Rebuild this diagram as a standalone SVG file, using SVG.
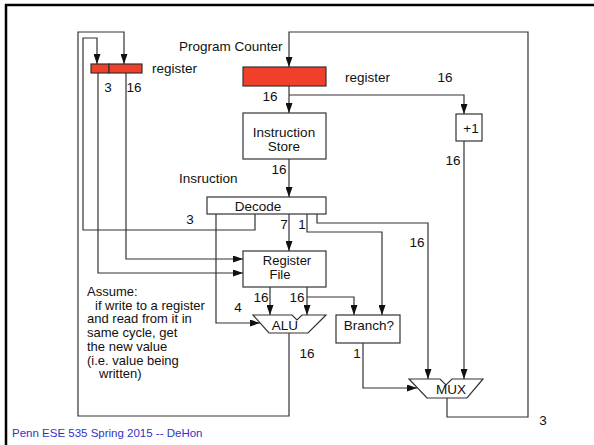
<svg xmlns="http://www.w3.org/2000/svg" width="594" height="445" viewBox="0 0 594 445">
<style>
  .t { font-family: "Liberation Sans", Arial, sans-serif; font-size: 13.5px; fill: #111; }
  .n { font-family: "Liberation Sans", Arial, sans-serif; font-size: 13px; fill: #111; }
  .m { text-anchor: middle; }
  .w { fill: none; stroke: #333; stroke-width: 1.2; }
  .wa { fill: none; stroke: #333; stroke-width: 1.2; marker-end: url(#ah); }
  .box { fill: #fff; stroke: #333; stroke-width: 1.2; }
  .red { fill: #f0402a; stroke: #333; stroke-width: 1.2; }
  .foot { font-family: "Liberation Sans", Arial, sans-serif; font-size: 11.5px; fill: #3232c8; }
</style>
<defs>
  <marker id="ah" markerWidth="10" markerHeight="7" refX="10" refY="3.5" orient="auto" markerUnits="userSpaceOnUse" viewBox="0 0 10 7">
    <path d="M0,0 L10,3.5 L0,7 z" fill="#111"/>
  </marker>
</defs>
<rect width="594" height="445" fill="#fff"/>
<g id="slide-frame">
  <line x1="5" y1="5" x2="594" y2="5" stroke="#000" stroke-width="2.5"/>
  <line x1="6" y1="4" x2="6" y2="445" stroke="#000" stroke-width="2.5"/>
</g>
<g id="connectors">
  <polyline class="wa" points="289,333 289,416 78,416 78,32 124,32 124,64"/>
  <polyline class="wa" points="255,214 255,230 83,230 83,38 97,38 97,64"/>
  <polyline class="wa" points="126,73 126,259 243,259"/>
  <polyline class="wa" points="98,73 98,273 243,273"/>
  <polyline class="wa" points="447,398 447,417 528,417 528,32 289,32 289,67"/>
  <polyline class="wa" points="289,86 289,113"/>
  <polyline class="wa" points="289,95 464,95 464,114"/>
  <polyline class="wa" points="464,141 464,379"/>
  <polyline class="wa" points="289,159 289,197"/>
  <polyline class="wa" points="289,214 289,251"/>
  <polyline class="wa" points="216,214 216,323 260,323"/>
  <polyline class="wa" points="307,214 307,232 382,232 382,315"/>
  <polyline class="wa" points="317,214 317,223 428,223 428,379"/>
  <polyline class="wa" points="270,287 270,315"/>
  <polyline class="wa" points="307,287 307,315"/>
  <polyline class="wa" points="307,297 354,297 354,315"/>
  <polyline class="wa" points="363,343 363,388 417,388"/>
</g>
<g id="write-register">
  <rect class="red" x="91" y="64" width="18" height="9"/>
  <rect class="red" x="109" y="64" width="33" height="9"/>
  <text class="t" x="152" y="73">register</text>
  <text class="t m" x="108" y="92">3</text>
  <text class="t m" x="134" y="92">16</text>
</g>
<g id="program-counter">
  <text class="t" x="179" y="51">Program Counter</text>
  <rect class="red" x="243" y="67" width="83" height="19"/>
  <text class="t" x="345" y="82">register</text>
  <text class="t m" x="445" y="82">16</text>
  <text class="t m" x="270" y="101">16</text>
</g>
<g id="plus-one">
  <rect class="box" x="456" y="114" width="26" height="27"/>
  <text class="t m" x="471" y="133">+1</text>
  <text class="t m" x="453" y="165">16</text>
</g>
<g id="instruction-store">
  <rect class="box" x="243" y="113" width="83" height="46"/>
  <text class="t m" x="284" y="137">Instruction</text>
  <text class="t m" x="284" y="151">Store</text>
  <text class="t m" x="279" y="174">16</text>
</g>
<g id="decode">
  <text class="t" x="179" y="183">Insruction</text>
  <rect class="box" x="207" y="197" width="119" height="17"/>
  <text class="t m" x="258" y="211">Decode</text>
  <text class="t m" x="190" y="224">3</text>
  <text class="t m" x="284" y="229">7</text>
  <text class="t m" x="302" y="229">1</text>
  <text class="t m" x="417" y="247">16</text>
</g>
<g id="register-file">
  <rect class="box" x="243" y="251" width="83" height="36"/>
  <text class="n m" x="287" y="265">Register</text>
  <text class="n m" x="280" y="279">File</text>
  <text class="t m" x="261" y="302">16</text>
  <text class="t m" x="297" y="302">16</text>
</g>
<g id="alu">
  <polygon class="box" points="253,315 292,315 297,320 302,315 326,315 308,333 269,333"/>
  <text class="t m" x="285" y="330">ALU</text>
  <text class="t m" x="238" y="312">4</text>
  <text class="t m" x="307" y="358">16</text>
</g>
<g id="branch">
  <rect class="box" x="336" y="315" width="64" height="28"/>
  <text class="t m" x="369" y="330">Branch?</text>
  <text class="t m" x="357" y="358">1</text>
</g>
<g id="mux">
  <polygon class="box" points="409,379 440,379 446,385 452,379 483,379 467,398 427,398"/>
  <text class="t m" x="451" y="394">MUX</text>
</g>
<g id="note">
  <text class="n" x="87" y="296">Assume:</text>
  <text class="n" x="95" y="310">if write to a register</text>
  <text class="n" x="87" y="323">and read from it in</text>
  <text class="n" x="87" y="337">same cycle, get</text>
  <text class="n" x="87" y="351">the new value</text>
  <text class="n" x="87" y="365">(i.e. value being</text>
  <text class="n" x="99" y="378">written)</text>
</g>
<g id="footer">
  <text class="foot" x="12" y="437">Penn ESE 535 Spring 2015 -- DeHon</text>
  <text class="t m" x="543" y="425">3</text>
</g>
</svg>
